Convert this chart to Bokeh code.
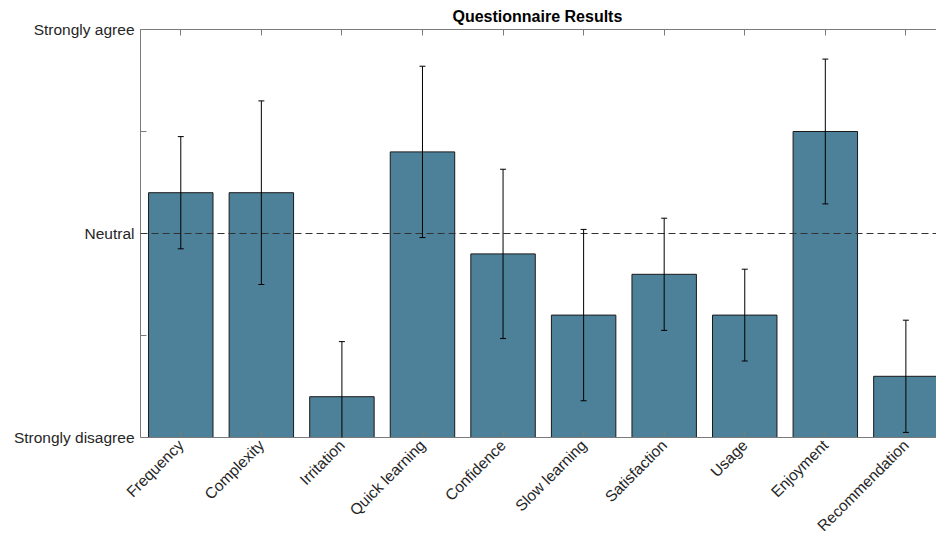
from math import pi
from bokeh.plotting import figure
from bokeh.models import (ColumnDataSource, Range1d, FixedTicker, LinearAxis,
                          Span, Whisker, TeeHead)
from bokeh.embed import file_html
from bokeh.resources import INLINE

categories = ["Frequency", "Complexity", "Irritation", "Quick learning", "Confidence",
              "Slow learning", "Satisfaction", "Usage", "Enjoyment", "Recommendation"]
means = [3.4, 3.4, 1.4, 3.8, 2.8, 2.2, 2.6, 2.2, 4.0, 1.6]
errors = [0.55, 0.90, 0.54, 0.84, 0.83, 0.84, 0.55, 0.45, 0.71, 0.55]
y_ticks = [1, 2, 3, 4, 5]
y_tick_labels = ["Strongly disagree", "", "Neutral", "", "Strongly agree"]
neutral = 3

xs = list(range(len(categories)))
src = ColumnDataSource(dict(
    x=xs, top=means,
    upper=[m + e for m, e in zip(means, errors)],
    lower=[m - e for m, e in zip(means, errors)],
))

FONT = "Liberation Sans"
AX = "#7a7a7a"
TXT = "#262626"

p = figure(width=936, height=543, output_backend="svg", toolbar_location=None,
           x_range=Range1d(-0.5, 9.38), y_range=Range1d(1, 5),
           min_border_left=140, min_border_right=0, min_border_bottom=106,
           min_border_top=0, x_axis_type=None, y_axis_type=None,
           title="Questionnaire Results")
p.title.text_font = FONT
p.title.text_font_size = "16px"
p.title.text_font_style = "bold"
p.title.text_color = "black"
p.title.align = "left"
p.title.offset = 312
p.title.standoff = 10
p.outline_line_color = None
p.xgrid.visible = False
p.ygrid.visible = False
p.background_fill_color = "white"

p.vbar(x="x", top="top", bottom=1, width=0.8, source=src,
       fill_color="#4d8099", line_color="#1a1a1a", line_width=1)

p.add_layout(Span(location=neutral, dimension="width", line_color="#333333",
                  line_width=1.2, line_dash="7 4"))

p.add_layout(Whisker(base="x", upper="upper", lower="lower", source=src,
                     level="overlay", line_color="black", line_width=1,
                     upper_head=TeeHead(size=6, line_color="black", line_width=1),
                     lower_head=TeeHead(size=6, line_color="black", line_width=1)))

yax = LinearAxis(ticker=FixedTicker(ticks=y_ticks),
                 major_label_overrides={t: l for t, l in zip(y_ticks, y_tick_labels)})
xax = LinearAxis(ticker=FixedTicker(ticks=xs),
                 major_label_overrides={i: c for i, c in enumerate(categories)},
                 major_label_orientation=pi / 4)
tax = LinearAxis(ticker=FixedTicker(ticks=xs),
                 major_label_overrides={i: "" for i in xs},
                 major_label_standoff=0)

for ax in (yax, xax, tax):
    ax.axis_line_color = AX
    ax.major_tick_line_color = AX
    ax.major_tick_in = 6
    ax.major_tick_out = 0
    ax.minor_tick_line_color = None
    ax.major_label_text_font = FONT
    ax.major_label_text_color = TXT
    ax.major_label_text_font_size = "15.5px"
yax.major_label_standoff = 6
xax.major_label_standoff = 5

p.add_layout(yax, "left")
p.add_layout(xax, "below")
p.add_layout(tax, "above")

open("out.html", "w").write(file_html(p, INLINE))
